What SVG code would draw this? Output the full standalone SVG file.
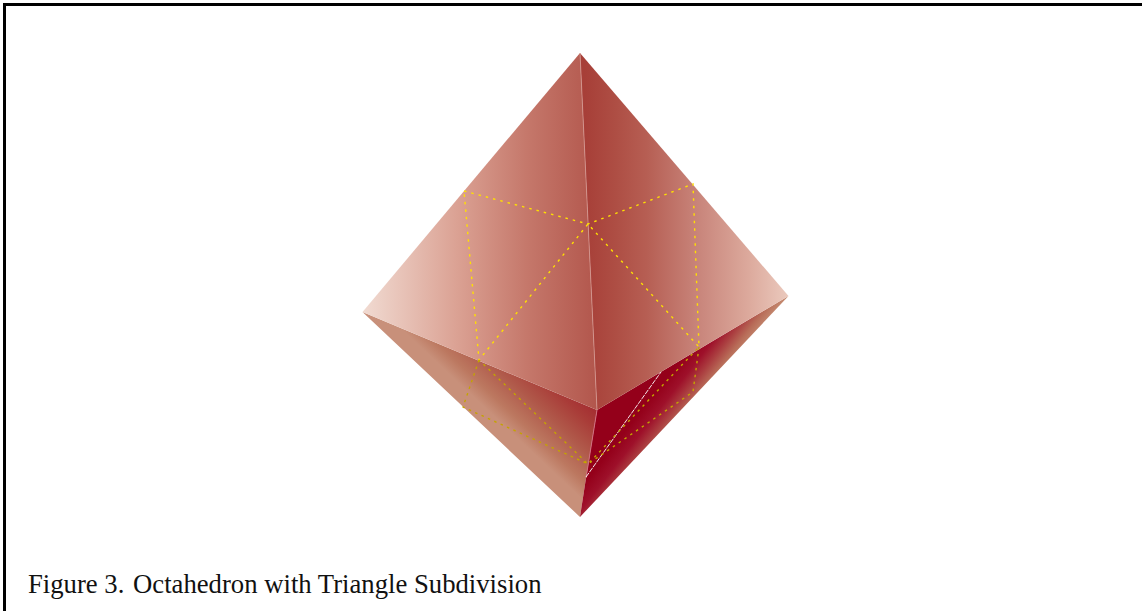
<svg xmlns="http://www.w3.org/2000/svg" width="1142" height="611" viewBox="0 0 1142 611">
<style>
.up{fill:none;stroke:#ffe000;stroke-width:1.4;stroke-dasharray:2.5 5}
.low{fill:none;stroke:#c4a400;stroke-width:1.4;stroke-dasharray:2.5 4.5}
.cap{font-family:"Liberation Serif",serif;font-size:26.7px;fill:#111}
</style>
<defs>
<linearGradient id="ul" gradientUnits="userSpaceOnUse" x1="362" y1="0" x2="597" y2="0"><stop offset="0" stop-color="#f1dbd2"/><stop offset="0.4" stop-color="#dba294"/><stop offset="0.7" stop-color="#c5786b"/><stop offset="1" stop-color="#b2564c"/></linearGradient>
<linearGradient id="ur" gradientUnits="userSpaceOnUse" x1="585" y1="0" x2="789" y2="0"><stop offset="0" stop-color="#a73f38"/><stop offset="0.15" stop-color="#ae4e44"/><stop offset="0.3" stop-color="#b65e53"/><stop offset="0.55" stop-color="#c8847a"/><stop offset="0.8" stop-color="#dca99c"/><stop offset="1" stop-color="#ebcabe"/></linearGradient>
<linearGradient id="ll" gradientUnits="userSpaceOnUse" x1="532" y1="452" x2="596" y2="384"><stop offset="0" stop-color="#c8907a"/><stop offset="0.15" stop-color="#bc7860"/><stop offset="0.4" stop-color="#b0594a"/><stop offset="0.65" stop-color="#a93c38"/><stop offset="1" stop-color="#9e1a28"/></linearGradient>
<linearGradient id="lr" gradientUnits="userSpaceOnUse" x1="636" y1="417" x2="672" y2="445"><stop offset="0" stop-color="#94001a"/><stop offset="0.3" stop-color="#9e102a"/><stop offset="0.55" stop-color="#ab3e40"/><stop offset="0.78" stop-color="#b86c58"/><stop offset="1" stop-color="#c48a70"/></linearGradient>
</defs>
<rect id="background" width="1142" height="611" fill="#fff"/>
<g id="frame"><rect x="3" y="3" width="1139" height="3"/><rect x="3" y="3" width="3" height="608"/></g>
<g id="face-lower-left"><polygon points="362.5,312 597,410 586,478 580,517" fill="url(#ll)"/></g>
<g id="face-lower-right"><polygon points="597,410 788.5,296 580,517 586,478" fill="url(#lr)"/></g>
<g id="face-upper-left"><polygon points="580,53 597,410 362.5,312" fill="url(#ul)"/></g>
<g id="face-upper-right"><polygon points="580,53 788.5,296 597,410" fill="url(#ur)"/></g>
<g id="connectors">
<path d="M580,53L597,410" stroke="#d8a098" stroke-width="1" fill="none" opacity="0.7"/>
<path d="M597,410L586,478" stroke="#d07080" stroke-width="1" fill="none"/>
<path d="M586,477L661,372" stroke="#fff" stroke-width="0.9" stroke-dasharray="5 1" fill="none"/>
<path class="up" d="M464,191L588,224L693,184L699,347L588,224L479,360L464,191"/>
<path class="low" d="M479,360L463,407L588,464L479,360M699,347L693,392L588,464L699,347"/>
</g>
<text class="cap" x="28" y="593">Figure 3. <tspan dx="2">Octahedron with Triangle Subdivision</tspan></text>
</svg>
